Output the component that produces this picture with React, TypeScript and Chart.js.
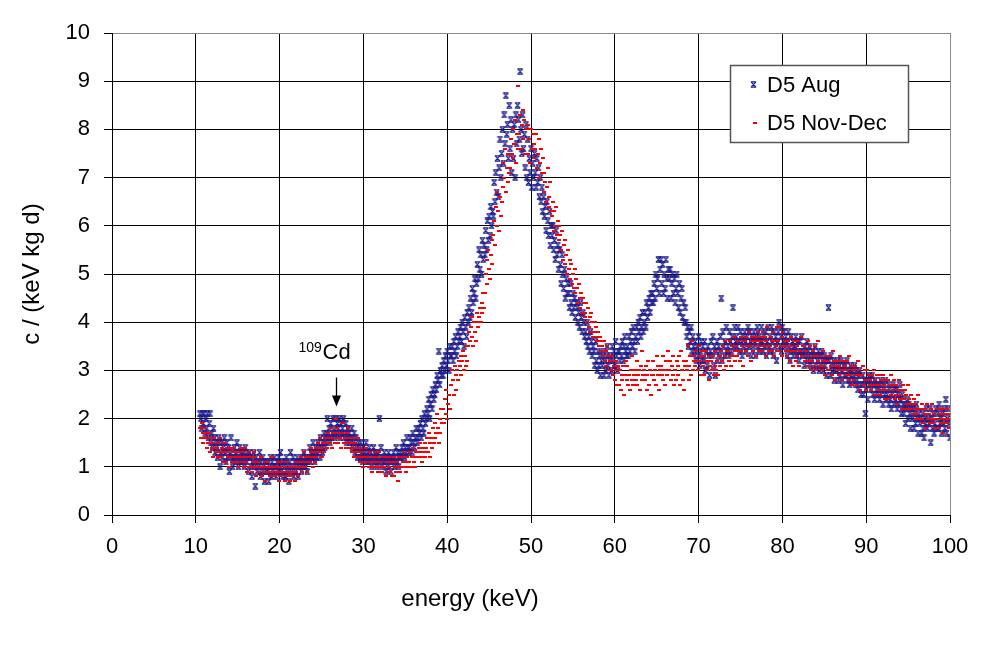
import React, { useEffect, useRef } from 'react';
import { Chart, registerables } from 'chart.js';

Chart.register(...registerables);

const FONT = "'Liberation Sans', Arial, sans-serif";

// Energy bins: 0.1 keV wide, first bin at 10.5 keV (one row = 1 keV)
const binStart = 10.5;
const binWidth = 0.1;

// Count rate c / (keV kg d), D5 detector, August run
const augRate = [
  2.1, 2.0, 1.8, 2.1, 1.9, 2.1, 1.7, 2.0, 1.8, 2.1,
  1.6, 1.9, 2.1, 1.5, 1.7, 1.4, 1.8, 1.6, 1.3, 1.5,
  1.4, 1.2, 1.6, 1.5, 1.0, 1.3, 1.5, 1.2, 1.4, 1.6,
  1.3, 1.1, 1.5, 1.2, 1.4, 0.9, 1.3, 1.6, 1.2, 1.0,
  1.2, 1.4, 1.1, 1.3, 1.5, 1.2, 1.0, 1.4, 1.1, 1.3,
  1.1, 1.3, 1.2, 1.0, 1.4, 1.3, 1.1, 1.2, 0.9, 1.3,
  1.2, 1.0, 0.8, 1.1, 1.3, 1.0, 0.6, 1.2, 0.9, 1.1,
  1.0, 1.3, 0.8, 1.1, 0.9, 1.2, 1.0, 0.7, 1.1, 0.9,
  1.1, 0.9, 0.7, 1.0, 1.2, 0.8, 1.1, 0.9, 1.0, 1.2,
  1.0, 0.8, 1.1, 0.9, 1.2, 1.0, 1.3, 0.9, 1.1, 0.8,
  1.0, 1.1, 0.8, 1.2, 0.9, 1.0, 0.7, 1.1, 1.3, 0.9,
  1.0, 1.2, 0.8, 1.1, 0.9, 1.0, 1.2, 0.8, 1.1, 1.0,
  1.1, 0.9, 1.2, 1.0, 1.3, 1.1, 1.0, 1.2, 0.9, 1.1,
  1.2, 1.4, 1.1, 1.3, 1.2, 1.5, 1.3, 1.1, 1.4, 1.2,
  1.3, 1.5, 1.4, 1.2, 1.6, 1.4, 1.3, 1.5, 1.7, 1.4,
  1.5, 1.7, 2.0, 1.6, 1.8, 1.5, 1.9, 1.6, 1.7, 2.0,
  1.8, 1.6, 2.0, 1.7, 1.9, 1.8, 2.0, 1.6, 1.9, 1.7,
  1.8, 2.0, 1.6, 1.7, 1.9, 1.5, 1.8, 1.6, 1.7, 1.5,
  1.6, 1.8, 1.4, 1.5, 1.7, 1.3, 1.6, 1.4, 1.2, 1.5,
  1.4, 1.2, 1.5, 1.3, 1.1, 1.4, 1.2, 1.3, 1.5, 1.1,
  1.3, 1.1, 1.4, 1.2, 1.3, 1.0, 1.2, 1.4, 1.1, 1.3,
  1.2, 1.0, 1.3, 1.1, 2.0, 1.2, 1.4, 1.0, 1.2, 1.1,
  1.3, 1.1, 0.9, 1.2, 1.0, 1.3, 1.1, 1.2, 0.9, 1.2,
  1.1, 1.3, 1.0, 1.2, 1.4, 1.1, 1.3, 1.0, 1.2, 1.3,
  1.2, 1.4, 1.3, 1.5, 1.2, 1.4, 1.3, 1.6, 1.4, 1.3,
  1.4, 1.6, 1.5, 1.3, 1.7, 1.5, 1.4, 1.6, 1.8, 1.5,
  1.6, 1.8, 1.7, 1.9, 1.6, 2.0, 1.8, 1.7, 2.1, 1.9,
  2.0, 2.2, 2.1, 2.4, 2.0, 2.3, 2.5, 2.2, 2.6, 2.4,
  2.5, 2.7, 2.6, 2.9, 2.8, 3.4, 2.7, 3.0, 2.9, 3.1,
  2.9, 3.2, 3.0, 3.3, 3.1, 3.4, 3.2, 3.0, 3.5, 3.3,
  3.3, 3.5, 3.2, 3.6, 3.4, 3.7, 3.3, 3.5, 3.8, 3.6,
  3.7, 3.9, 3.6, 4.0, 3.8, 3.5, 4.1, 3.9, 3.7, 4.2,
  4.0, 4.3, 4.1, 4.5, 4.2, 4.7, 4.4, 4.6, 4.9, 4.5,
  4.8, 5.2, 4.9, 5.5, 5.1, 5.4, 5.0, 5.7, 5.3, 5.6,
  5.4, 5.9, 5.5, 6.1, 5.7, 6.2, 5.8, 6.4, 6.0, 6.3,
  6.2, 6.9, 6.5, 7.1, 6.7, 7.4, 6.6, 7.2, 7.8, 7.0,
  7.5, 8.0, 7.3, 8.3, 7.7, 8.7, 7.9, 8.1, 7.4, 8.5,
  7.6, 8.2, 7.1, 8.0, 7.4, 8.1, 7.0, 8.3, 7.7, 8.5,
  8.2, 7.8, 9.2, 8.0, 7.5, 8.3, 7.6, 7.9, 7.2, 8.1,
  7.0, 7.8, 6.9, 7.4, 7.1, 7.6, 6.8, 7.3, 7.0, 7.5,
  7.1, 6.8, 7.4, 6.9, 7.2, 6.6, 7.0, 6.5, 6.8, 6.3,
  6.6, 6.2, 6.4, 5.9, 6.5, 6.1, 5.8, 6.3, 5.6, 6.0,
  5.8, 6.0, 5.5, 5.7, 5.3, 5.9, 5.4, 5.6, 5.1, 5.5,
  5.2, 4.8, 5.4, 5.0, 4.7, 5.1, 4.5, 4.9, 4.6, 4.8,
  4.6, 4.3, 4.8, 4.4, 4.2, 4.6, 4.3, 4.5, 4.1, 4.4,
  4.3, 4.0, 4.2, 3.9, 4.4, 4.1, 3.8, 4.2, 4.0, 3.7,
  3.8, 3.6, 4.0, 3.5, 3.7, 3.4, 3.8, 3.6, 3.3, 3.5,
  3.4, 3.1, 3.6, 3.2, 3.0, 3.4, 3.1, 3.3, 2.9, 3.2,
  3.1, 3.4, 2.9, 3.2, 3.0, 3.3, 3.5, 3.1, 2.9, 3.2,
  3.3, 3.0, 3.5, 3.2, 3.4, 3.1, 3.6, 3.3, 3.0, 3.4,
  3.4, 3.2, 3.5, 3.3, 3.6, 3.2, 3.5, 3.7, 3.4, 3.3,
  3.5, 3.3, 3.7, 3.4, 3.6, 3.8, 3.5, 3.9, 3.6, 3.4,
  3.7, 3.9, 3.6, 4.0, 3.8, 4.1, 3.7, 3.9, 4.2, 3.8,
  4.0, 4.2, 3.9, 4.4, 4.1, 4.3, 4.5, 4.2, 4.6, 4.4,
  4.6, 4.4, 4.8, 4.5, 5.0, 4.7, 4.9, 5.3, 4.6, 5.1,
  5.3, 4.8, 5.2, 4.6, 5.0, 4.7, 5.3, 4.9, 4.5, 5.1,
  4.9, 5.1, 4.5, 4.8, 5.0, 4.6, 4.9, 4.4, 4.7, 5.0,
  4.6, 4.3, 4.8, 4.2, 4.5, 4.7, 4.1, 4.4, 4.0, 4.3,
  4.0, 3.7, 3.9, 3.5, 3.8, 3.6, 3.9, 3.4, 3.7, 3.5,
  3.4, 3.6, 3.2, 3.5, 3.3, 3.7, 3.1, 3.4, 3.6, 3.2,
  3.5, 3.2, 3.6, 3.0, 3.4, 3.1, 3.5, 3.3, 2.9, 3.4,
  3.6, 3.3, 3.7, 3.1, 3.5, 2.9, 3.4, 3.6, 3.2, 3.5,
  3.4, 3.7, 4.5, 3.2, 3.8, 3.5, 3.3, 3.6, 3.9, 3.4,
  3.5, 3.3, 3.8, 3.6, 3.4, 3.7, 4.3, 3.5, 3.9, 3.6,
  3.7, 3.5, 3.9, 3.6, 3.4, 3.8, 3.6, 3.3, 3.7, 3.5,
  3.8, 3.6, 3.4, 3.7, 3.9, 3.5, 3.8, 3.6, 3.3, 3.7,
  3.5, 3.8, 3.6, 3.3, 3.7, 3.9, 3.5, 3.7, 3.4, 3.6,
  3.9, 3.6, 3.4, 3.7, 3.5, 3.8, 3.3, 3.6, 3.9, 3.5,
  3.7, 3.4, 3.9, 3.6, 3.3, 3.8, 3.5, 3.7, 3.2, 3.6,
  3.8, 4.0, 3.5, 3.7, 3.4, 3.9, 3.6, 3.8, 3.5, 3.7,
  3.6, 3.3, 3.8, 3.5, 3.2, 3.7, 3.4, 3.6, 3.3, 3.5,
  3.5, 3.7, 3.3, 3.6, 3.4, 3.2, 3.6, 3.4, 3.7, 3.3,
  3.4, 3.1, 3.5, 3.3, 3.6, 3.2, 3.4, 3.5, 3.1, 3.3,
  3.2, 3.4, 3.0, 3.3, 3.5, 3.1, 3.3, 3.2, 3.4, 3.0,
  3.3, 3.1, 3.4, 3.2, 3.0, 3.3, 3.1, 3.2, 2.9, 3.2,
  4.3, 3.2, 2.9, 3.3, 3.1, 3.0, 3.2, 2.8, 3.1, 3.0,
  3.0, 3.2, 2.8, 3.1, 2.9, 3.2, 3.0, 2.7, 3.1, 2.9,
  3.1, 2.9, 3.2, 2.8, 3.0, 2.7, 3.1, 2.9, 3.0, 2.8,
  2.9, 3.1, 2.7, 3.0, 2.8, 2.6, 2.9, 3.0, 2.7, 2.5,
  2.7, 2.9, 2.5, 2.8, 2.1, 2.6, 2.8, 2.4, 2.7, 2.9,
  2.8, 2.6, 2.9, 2.5, 2.7, 2.4, 2.8, 2.6, 2.5, 2.7,
  2.6, 2.4, 2.8, 2.5, 2.7, 2.3, 2.6, 2.5, 2.8, 2.4,
  2.5, 2.7, 2.3, 2.6, 2.4, 2.2, 2.5, 2.7, 2.3, 2.6,
  2.4, 2.6, 2.2, 2.5, 2.3, 2.7, 2.4, 2.1, 2.5, 2.3,
  2.1, 2.3, 1.9, 2.2, 2.4, 2.0, 2.3, 2.1, 1.8, 2.2,
  2.0, 2.2, 1.8, 2.1, 1.9, 2.3, 2.0, 1.7, 2.1, 1.9,
  2.0, 1.7, 2.1, 1.8, 1.6, 2.0, 1.9, 2.2, 1.8, 2.0,
  1.9, 2.2, 1.5, 2.0, 1.8, 2.1, 1.7, 1.9, 2.2, 1.8,
  2.1, 1.8, 2.3, 1.9, 2.0, 1.7, 2.1, 1.9, 2.2, 1.8,
  2.4, 1.7, 2.0, 2.2, 1.9, 1.6,
];

// Count rate c / (keV kg d), D5 detector, November-December run
const novDecRate = [
  1.8, 1.6, 1.9, 1.7, 1.5, 1.8, 1.6, 1.7, 1.4, 1.6,
  1.5, 1.7, 1.3, 1.6, 1.4, 1.5, 1.2, 1.6, 1.4, 1.3,
  1.4, 1.2, 1.5, 1.3, 1.6, 1.2, 1.4, 1.1, 1.3, 1.5,
  1.3, 1.1, 1.4, 1.2, 1.3, 1.0, 1.2, 1.4, 1.1, 1.3,
  1.2, 1.4, 1.1, 1.3, 1.2, 1.0, 1.3, 1.1, 1.2, 1.4,
  1.1, 1.3, 1.0, 1.2, 1.4, 1.1, 0.9, 1.2, 1.0, 1.3,
  1.0, 1.2, 0.9, 1.1, 1.3, 1.0, 1.2, 0.8, 1.1, 1.0,
  1.1, 0.9, 1.0, 1.2, 0.8, 1.0, 0.9, 1.1, 0.7, 1.0,
  0.9, 1.1, 1.0, 0.8, 1.0, 0.9, 1.2, 0.8, 1.0, 0.9,
  0.8, 1.0, 0.9, 1.1, 0.7, 1.0, 0.8, 0.9, 1.1, 0.9,
  0.9, 0.7, 1.0, 0.8, 1.1, 0.9, 0.8, 1.0, 0.7, 0.9,
  0.9, 0.8, 1.0, 0.7, 1.1, 0.9, 1.0, 0.8, 1.1, 1.0,
  1.0, 1.2, 0.9, 1.1, 1.3, 1.0, 1.1, 1.2, 0.9, 1.1,
  1.2, 1.1, 1.3, 1.4, 1.2, 1.0, 1.3, 1.1, 1.2, 1.4,
  1.3, 1.5, 1.4, 1.6, 1.3, 1.4, 1.2, 1.5, 1.3, 1.6,
  1.5, 1.4, 1.6, 1.7, 1.6, 1.5, 1.8, 1.4, 1.6, 1.7,
  1.7, 1.5, 2.0, 1.6, 1.8, 1.5, 1.7, 1.6, 1.4, 1.9,
  1.7, 1.9, 1.5, 1.6, 1.4, 1.7, 1.5, 1.8, 1.6, 1.4,
  1.5, 1.3, 1.6, 1.4, 1.2, 1.5, 1.3, 1.4, 1.6, 1.2,
  1.3, 1.1, 1.4, 1.2, 1.0, 1.3, 1.1, 1.2, 1.4, 1.1,
  1.1, 1.2, 1.0, 1.3, 1.1, 0.9, 1.2, 1.0, 1.1, 1.3,
  1.0, 1.2, 1.1, 0.9, 1.3, 1.0, 1.1, 0.9, 1.2, 1.0,
  1.0, 1.2, 0.8, 1.1, 0.9, 1.0, 1.2, 0.9, 1.1, 0.8,
  1.1, 0.8, 1.2, 1.0, 0.9, 1.1, 0.7, 1.0, 1.2, 0.9,
  1.0, 1.2, 1.1, 1.3, 1.0, 1.1, 0.9, 1.2, 1.0, 1.1,
  1.1, 1.3, 1.0, 1.2, 1.4, 1.1, 1.2, 1.0, 1.3, 1.2,
  1.2, 1.4, 1.3, 1.5, 1.2, 1.1, 1.4, 1.3, 1.2, 1.5,
  1.4, 1.6, 1.3, 1.7, 1.5, 1.2, 1.6, 1.4, 1.8, 1.5,
  1.6, 1.9, 1.7, 2.1, 1.8, 1.5, 2.0, 1.7, 2.2, 1.9,
  2.2, 1.9, 2.4, 2.1, 2.6, 2.0, 2.3, 2.5, 2.2, 2.7,
  2.7, 3.0, 2.8, 2.5, 3.1, 2.9, 2.6, 3.0, 2.8, 3.2,
  3.1, 3.3, 2.9, 3.2, 3.4, 3.0, 3.3, 3.1, 3.5, 3.2,
  3.5, 3.8, 3.6, 3.9, 4.1, 3.7, 3.5, 4.0, 3.8, 3.6,
  4.0, 4.2, 3.9, 4.1, 4.3, 4.0, 4.4, 4.2, 4.6, 4.3,
  4.6, 5.0, 5.3, 4.8, 5.5, 5.1, 4.9, 5.4, 5.7, 5.2,
  5.8, 6.1, 5.6, 6.4, 6.7, 6.0, 6.3, 5.9, 6.6, 6.2,
  6.5, 6.8, 7.3, 7.0, 7.6, 6.7, 7.2, 6.9, 7.5, 7.1,
  7.2, 7.8, 7.5, 8.0, 7.4, 7.7, 8.2, 7.3, 7.9, 7.6,
  8.9, 7.9, 8.3, 7.6, 8.1, 8.4, 7.8, 8.2, 7.5, 8.0,
  8.0, 7.5, 8.1, 7.8, 7.3, 8.0, 7.6, 7.9, 7.4, 7.7,
  7.6, 7.9, 7.2, 7.5, 7.0, 7.8, 7.3, 7.6, 7.1, 7.4,
  7.1, 6.7, 6.9, 6.5, 6.8, 7.2, 6.6, 6.4, 6.9, 6.3,
  6.2, 6.5, 5.9, 6.3, 6.0, 6.4, 5.8, 6.1, 5.7, 6.0,
  5.8, 5.5, 5.9, 5.3, 5.6, 5.2, 5.7, 5.4, 5.0, 5.5,
  5.1, 5.3, 4.9, 5.2, 4.8, 5.0, 4.7, 5.1, 4.6, 4.9,
  4.7, 4.4, 4.8, 4.5, 4.3, 4.6, 4.2, 4.5, 4.4, 4.1,
  4.2, 4.4, 4.0, 4.3, 3.9, 4.1, 3.8, 4.2, 4.0, 3.7,
  3.8, 4.0, 3.7, 3.9, 3.6, 3.8, 3.5, 3.7, 3.4, 3.6,
  3.5, 3.3, 3.6, 3.2, 3.4, 3.1, 3.5, 3.3, 3.0, 3.2,
  3.2, 3.0, 3.3, 2.9, 3.1, 2.8, 3.2, 3.0, 2.7, 3.1,
  2.7, 3.0, 2.6, 2.9, 2.8, 3.1, 2.5, 2.9, 3.2, 2.8,
  3.1, 2.7, 2.9, 2.6, 3.0, 2.8, 3.3, 2.7, 2.9, 3.0,
  2.8, 3.2, 2.7, 2.9, 3.0, 2.6, 3.1, 2.8, 3.4, 2.9,
  3.0, 2.8, 3.1, 2.6, 2.9, 3.2, 2.7, 3.0, 2.5, 2.9,
  2.9, 3.2, 2.8, 3.0, 2.7, 3.3, 2.9, 3.1, 2.6, 3.0,
  3.1, 2.9, 3.3, 2.8, 3.0, 2.7, 3.2, 2.9, 3.4, 3.0,
  3.0, 3.2, 2.8, 3.1, 2.9, 3.3, 2.7, 3.0, 2.8, 3.2,
  2.9, 3.1, 3.3, 2.7, 3.4, 3.0, 2.8, 3.2, 2.6, 3.1,
  3.2, 3.0, 3.5, 3.1, 2.8, 3.3, 2.9, 3.6, 3.0, 3.2,
  3.3, 3.1, 3.4, 3.2, 3.0, 3.5, 3.2, 3.3, 2.9, 3.4,
  3.1, 3.3, 2.9, 3.2, 3.4, 3.0, 3.2, 2.8, 3.3, 3.1,
  3.2, 3.0, 3.3, 2.9, 3.1, 3.4, 3.0, 3.2, 2.9, 3.3,
  3.3, 3.1, 3.4, 3.2, 3.5, 3.0, 3.3, 3.6, 3.1, 3.4,
  3.4, 3.2, 3.6, 3.3, 3.1, 3.5, 3.3, 3.7, 3.2, 3.4,
  3.5, 3.3, 3.6, 3.4, 3.2, 3.7, 3.4, 3.5, 3.1, 3.6,
  3.6, 3.4, 3.7, 3.5, 3.3, 3.8, 3.5, 3.6, 3.2, 3.7,
  3.4, 3.6, 3.5, 3.7, 3.3, 3.6, 3.8, 3.4, 3.5, 3.7,
  3.6, 3.4, 3.8, 3.5, 3.7, 3.3, 3.6, 3.9, 3.5, 3.4,
  3.5, 3.7, 3.4, 3.6, 3.8, 3.3, 3.6, 3.5, 3.9, 3.4,
  3.6, 3.4, 3.9, 3.5, 3.7, 3.3, 3.8, 3.5, 3.6, 3.4,
  3.5, 3.3, 3.6, 3.4, 3.2, 3.7, 3.4, 3.5, 3.1, 3.6,
  3.4, 3.2, 3.5, 3.3, 3.6, 3.1, 3.4, 3.7, 3.3, 3.5,
  3.3, 3.5, 3.2, 3.4, 3.1, 3.6, 3.3, 3.2, 3.5, 3.0,
  3.2, 3.4, 3.1, 3.3, 3.5, 3.0, 3.3, 3.2, 3.6, 3.1,
  3.1, 3.3, 3.0, 3.2, 3.4, 3.1, 2.9, 3.3, 3.2, 3.0,
  3.2, 3.0, 3.3, 3.1, 2.9, 3.4, 3.1, 3.2, 2.8, 3.1,
  3.0, 3.2, 2.9, 3.1, 3.3, 3.0, 2.8, 3.2, 3.0, 3.1,
  3.1, 2.9, 3.2, 3.0, 2.8, 3.3, 2.9, 3.1, 2.7, 3.0,
  3.0, 2.8, 3.1, 2.9, 2.7, 3.2, 2.9, 3.0, 2.6, 2.9,
  2.9, 3.1, 2.7, 3.0, 2.8, 2.6, 3.0, 2.8, 2.9, 2.7,
  2.8, 2.6, 2.9, 2.7, 3.0, 2.5, 2.8, 2.7, 2.9, 2.6,
  2.7, 2.9, 2.5, 2.8, 2.6, 2.9, 2.7, 2.4, 2.8, 2.6,
  2.6, 2.8, 2.4, 2.7, 2.9, 2.5, 2.7, 2.6, 2.8, 2.4,
  2.5, 2.7, 2.3, 2.6, 2.8, 2.4, 2.6, 2.5, 2.2, 2.7,
  2.4, 2.6, 2.2, 2.5, 2.3, 2.7, 2.4, 2.2, 2.5, 2.3,
  2.3, 2.1, 2.4, 2.2, 2.0, 2.3, 2.1, 2.5, 2.2, 2.0,
  2.2, 2.0, 2.3, 1.9, 2.1, 2.2, 1.8, 2.1, 2.3, 2.0,
  2.1, 1.9, 2.2, 2.0, 2.3, 1.9, 2.1, 1.8, 2.0, 2.2,
  2.0, 2.2, 1.8, 2.1, 1.9, 2.2, 2.0, 1.7, 2.1, 1.9,
  2.0, 2.2, 1.9, 2.1, 1.8, 2.0,
];

const seriesNames = ['D5 Aug', 'D5 Nov-Dec'];
const augColor = '#1c1c8e';
const novDecColor = '#ff0000';

// Cd-109 line marker position (keV, count rate at arrow tip)
const cdLineEnergy = 26.7;
const cdArrowTip = 2.25;

const toPoints = (vals: number[]) =>
  vals.map((v, i) => ({ x: Math.round((binStart + i * binWidth) * 10) / 10, y: v }));

function makeAugMarker(): HTMLCanvasElement {
  const c = document.createElement('canvas');
  c.width = 7;
  c.height = 7;
  const g = c.getContext('2d')!;
  g.strokeStyle = augColor;
  g.lineWidth = 1.2;
  g.beginPath();
  g.moveTo(1.2, 1.2); g.lineTo(5.8, 5.8);
  g.moveTo(5.8, 1.2); g.lineTo(1.2, 5.8);
  g.moveTo(0.8, 0.8); g.lineTo(6.2, 0.8);
  g.moveTo(0.8, 6.2); g.lineTo(6.2, 6.2);
  g.stroke();
  return c;
}

function makeNovDecMarker(): HTMLCanvasElement {
  const c = document.createElement('canvas');
  c.width = 4;
  c.height = 2;
  const g = c.getContext('2d')!;
  g.fillStyle = novDecColor;
  g.fillRect(0, 0, 4, 2);
  return c;
}

export default function App() {
  const ref = useRef<HTMLCanvasElement>(null);

  useEffect(() => {
    if (!ref.current) return;
    const augMarker = makeAugMarker();
    const novMarker = makeNovDecMarker();

    const overlay = {
      id: 'overlay',
      afterDraw(chart: any) {
        const ctx = chart.ctx as CanvasRenderingContext2D;
        const xs = chart.scales.x;
        const ys = chart.scales.y;
        ctx.save();

        // x axis title
        ctx.fillStyle = '#000';
        ctx.font = `24px ${FONT}`;
        ctx.textAlign = 'center';
        ctx.textBaseline = 'alphabetic';
        ctx.fillText('energy (keV)', 470, 606);

        // legend box
        ctx.fillStyle = '#fff';
        ctx.fillRect(730.5, 65.5, 178, 77);
        ctx.strokeStyle = '#555';
        ctx.lineWidth = 1.5;
        ctx.strokeRect(730.5, 65.5, 178, 77);
        ctx.drawImage(augMarker, 750, 81);
        ctx.drawImage(novMarker, 753, 122);
        ctx.fillStyle = '#000';
        ctx.font = `22px ${FONT}`;
        ctx.textAlign = 'left';
        ctx.fillText(seriesNames[0], 767, 92);
        ctx.fillText(seriesNames[1], 767, 130);

        // Cd-109 annotation with arrow
        const ax = Math.round(xs.getPixelForValue(cdLineEnergy)) + 0.5;
        const tip = ys.getPixelForValue(cdArrowTip);
        ctx.strokeStyle = '#000';
        ctx.lineWidth = 1.3;
        ctx.beginPath();
        ctx.moveTo(ax, tip - 29);
        ctx.lineTo(ax, tip - 8);
        ctx.stroke();
        ctx.fillStyle = '#000';
        ctx.beginPath();
        ctx.moveTo(ax - 4.5, tip - 11);
        ctx.lineTo(ax + 4.5, tip - 11);
        ctx.lineTo(ax, tip);
        ctx.closePath();
        ctx.fill();
        ctx.font = `14px ${FONT}`;
        ctx.fillText('109', ax - 38, tip - 55);
        ctx.font = `22px ${FONT}`;
        ctx.fillText('Cd', ax - 14, tip - 48);

        ctx.restore();
      },
    };

    const chart = new Chart(ref.current, {
      type: 'scatter',
      data: {
        datasets: [
          {
            label: seriesNames[0],
            data: toPoints(augRate),
            pointStyle: augMarker as any,
            pointRadius: 3,
            borderWidth: 0,
            backgroundColor: augColor,
            borderColor: augColor,
            order: 1,
          },
          {
            label: seriesNames[1],
            data: toPoints(novDecRate),
            pointStyle: novMarker as any,
            pointRadius: 2,
            borderWidth: 0,
            backgroundColor: novDecColor,
            borderColor: novDecColor,
            order: 0,
          },
        ],
      },
      options: {
        responsive: false,
        animation: false,
        devicePixelRatio: 1,
        layout: { padding: { left: 0, right: 44, top: 33, bottom: 0 } },
        plugins: {
          legend: { display: false },
          tooltip: { enabled: false },
        },
        scales: {
          x: {
            type: 'linear',
            min: 0,
            max: 100,
            ticks: {
              stepSize: 10,
              color: '#000',
              font: { family: FONT, size: 22 },
              padding: 11,
              maxRotation: 0,
            },
            grid: {
              color: (c: any) => (c.tick && c.tick.value === 100 ? '#8a8a8a' : '#000'),
              tickColor: '#000',
              lineWidth: 1,
              tickLength: 8,
              drawTicks: true,
            },
            border: { color: '#000', width: 1 },
            afterFit: (s: any) => {
              s.height = 148;
            },
          },
          y: {
            type: 'linear',
            min: 0,
            max: 10,
            ticks: {
              stepSize: 1,
              color: '#000',
              font: { family: FONT, size: 22 },
              padding: 14,
            },
            grid: {
              color: (c: any) => (c.tick && c.tick.value === 10 ? '#8a8a8a' : '#000'),
              tickColor: '#000',
              lineWidth: 1,
              tickLength: 8,
              drawTicks: true,
            },
            border: { color: '#000', width: 1 },
            title: {
              display: true,
              text: 'c / (keV kg d)',
              color: '#000',
              font: { family: FONT, size: 24 },
              padding: { top: 18, bottom: 0 },
            },
            afterFit: (s: any) => {
              s.width = 112;
            },
          },
        },
      },
      plugins: [overlay],
    });

    return () => chart.destroy();
  }, []);

  return (
    <div style={{ position: 'fixed', left: 0, top: 0, width: 994, height: 663, background: '#fff' }}>
      <canvas ref={ref} width={994} height={663} style={{ display: 'block' }} />
    </div>
  );
}
